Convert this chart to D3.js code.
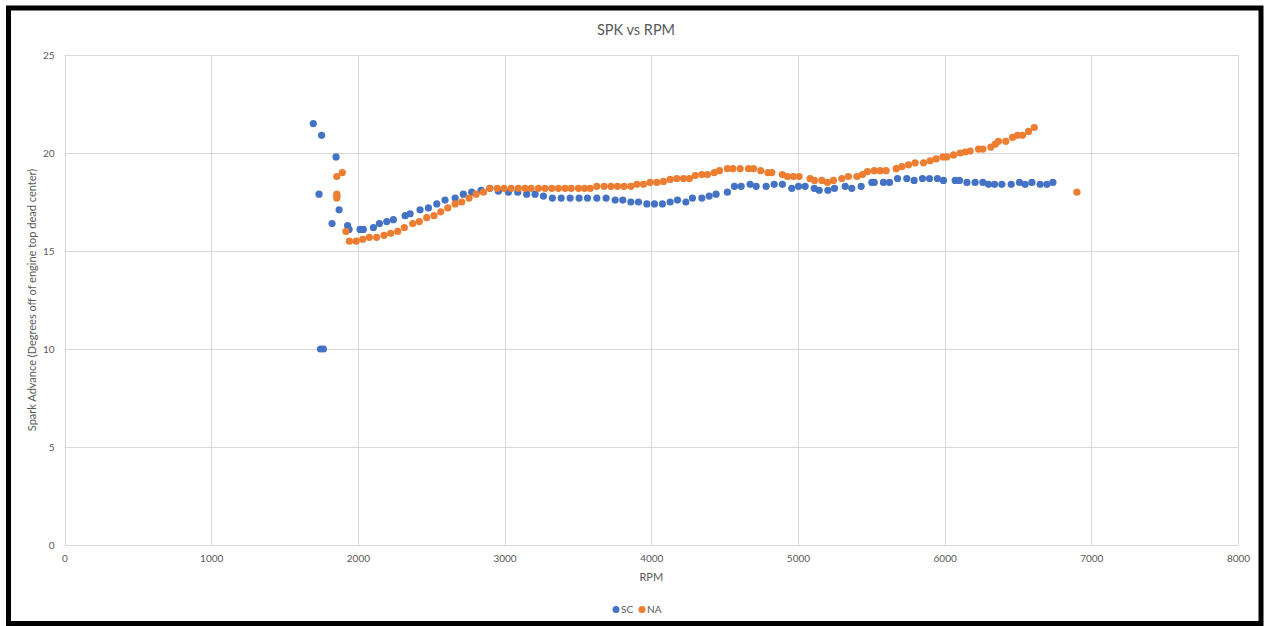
<!DOCTYPE html>
<html><head><meta charset="utf-8">
<script src="https://cdn.jsdelivr.net/npm/d3@7"></script>
<style>html,body{margin:0;padding:0;background:#fff;}svg{display:block;}</style>
</head><body>
<svg id="chart" width="1264" height="626"></svg>
<script>
const chartTitle = "SPK vs RPM";
const xTitle = "RPM";
const yTitle = "Spark Advance (Degrees off of engine top dead center)";
const xTicks = [0,1000,2000,3000,4000,5000,6000,7000,8000];
const yTicks = [0,5,10,15,20,25];
const seriesNames = ["SC","NA"];
const seriesColors = ["#4472C4","#ED7D31"];
const scData = [[1696,21.5],[1735,17.9],[1745,10.0],[1753,20.9],[1765,10.0],[1824,16.4],[1851,19.8],[1872,17.1],[1930,16.3],[1940,16.1],[2015,16.1],[2037,16.1],[2106,16.2],[2147,16.4],[2197,16.5],[2242,16.6],[2322,16.8],[2356,16.9],[2424,17.1],[2481,17.2],[2538,17.4],[2594,17.6],[2663,17.7],[2719,17.9],[2776,18.0],[2840,18.1],[2900,18.2],[2958,18.05],[3026,18.0],[3090,18.0],[3151,17.9],[3208,17.9],[3265,17.8],[3326,17.7],[3386,17.7],[3447,17.7],[3508,17.7],[3565,17.7],[3629,17.7],[3692,17.7],[3754,17.6],[3806,17.6],[3861,17.5],[3913,17.5],[3970,17.4],[4022,17.4],[4076,17.4],[4129,17.5],[4179,17.6],[4236,17.5],[4281,17.7],[4345,17.7],[4395,17.8],[4442,17.9],[4519,18.0],[4567,18.3],[4613,18.3],[4674,18.4],[4715,18.3],[4783,18.3],[4838,18.4],[4894,18.4],[4958,18.2],[5004,18.3],[5049,18.3],[5111,18.2],[5145,18.1],[5204,18.1],[5249,18.2],[5322,18.3],[5367,18.2],[5431,18.3],[5504,18.5],[5520,18.5],[5583,18.5],[5624,18.5],[5679,18.7],[5742,18.7],[5792,18.6],[5849,18.7],[5897,18.7],[5951,18.7],[5992,18.6],[6072,18.6],[6101,18.6],[6152,18.5],[6208,18.5],[6261,18.5],[6299,18.4],[6340,18.4],[6390,18.4],[6454,18.4],[6510,18.5],[6549,18.4],[6595,18.5],[6651,18.4],[6697,18.4],[6738,18.5]];
const naData = [[1856,18.8],[1856,17.9],[1858,17.8],[1856,17.7],[1894,19.0],[1919,16.0],[1942,15.5],[1988,15.5],[2033,15.6],[2078,15.7],[2128,15.7],[2178,15.8],[2224,15.9],[2272,16.0],[2317,16.2],[2374,16.4],[2419,16.5],[2469,16.7],[2519,16.8],[2565,17.0],[2613,17.2],[2663,17.4],[2708,17.5],[2758,17.7],[2806,17.9],[2856,18.0],[2900,18.2],[2951,18.2],[2997,18.2],[3045,18.2],[3094,18.2],[3140,18.2],[3181,18.2],[3231,18.2],[3276,18.2],[3322,18.2],[3367,18.2],[3413,18.2],[3454,18.2],[3504,18.2],[3545,18.2],[3584,18.2],[3629,18.3],[3679,18.3],[3725,18.3],[3770,18.3],[3815,18.3],[3861,18.3],[3902,18.4],[3947,18.4],[3992,18.5],[4038,18.5],[4083,18.55],[4129,18.65],[4174,18.7],[4220,18.7],[4260,18.7],[4300,18.85],[4345,18.9],[4383,18.9],[4429,19.0],[4465,19.1],[4519,19.2],[4556,19.2],[4606,19.2],[4663,19.2],[4697,19.2],[4747,19.1],[4795,19.0],[4822,19.0],[4894,18.9],[4929,18.8],[4969,18.8],[5008,18.8],[5083,18.7],[5113,18.6],[5163,18.6],[5201,18.5],[5242,18.6],[5299,18.7],[5344,18.8],[5402,18.8],[5440,18.9],[5474,19.05],[5520,19.1],[5561,19.1],[5601,19.1],[5670,19.2],[5708,19.3],[5754,19.4],[5799,19.5],[5856,19.5],[5901,19.6],[5942,19.7],[5988,19.8],[6015,19.8],[6061,19.9],[6106,20.0],[6140,20.05],[6174,20.1],[6231,20.2],[6261,20.2],[6315,20.3],[6345,20.45],[6367,20.6],[6417,20.6],[6463,20.8],[6497,20.9],[6531,20.9],[6572,21.1],[6611,21.3],[6902,18.0]];

const svg = d3.select("#chart");
const font = "Lato, 'Open Sans', sans-serif";
const textCol = "#595959";
const gridCol = "#d9d9d9";

// outer frame
svg.append("rect").attr("x",8.5).attr("y",8).attr("width",1252.5).attr("height",615.5)
  .attr("fill","none").attr("stroke","#000").attr("stroke-width",5);

const x = d3.scaleLinear().domain([0,8000]).range([64.5,1238]);
const y = d3.scaleLinear().domain([0,25]).range([545,55]);

// gridlines
svg.append("g").selectAll("line").data(yTicks).join("line")
  .attr("x1",x(0)).attr("x2",x(8000)).attr("y1",d=>Math.round(y(d))+0.5).attr("y2",d=>Math.round(y(d))+0.5)
  .attr("stroke",gridCol).attr("stroke-width",1);
svg.append("g").selectAll("line").data(xTicks).join("line")
  .attr("y1",y(0)).attr("y2",y(25)).attr("x1",d=>Math.round(x(d))+0.5).attr("x2",d=>Math.round(x(d))+0.5)
  .attr("stroke",gridCol).attr("stroke-width",1);

// axes (labels only)
const xAxis = d3.axisBottom(x).tickValues(xTicks).tickSize(0).tickPadding(10).tickFormat(d3.format("d"));
const gx = svg.append("g").attr("transform",`translate(0,${y(0)})`).call(xAxis);
gx.select(".domain").remove();
gx.selectAll("text").attr("fill",textCol).style("font-family",font).style("font-size","10px");
const yAxis = d3.axisLeft(y).tickValues(yTicks).tickSize(0).tickPadding(10).tickFormat(d3.format("d"));
const gy = svg.append("g").attr("transform",`translate(${x(0)},0)`).call(yAxis);
gy.select(".domain").remove();
gy.selectAll("text").attr("fill",textCol).style("font-family",font).style("font-size","10px");

// points
const series = [scData, naData];
series.forEach((data,i)=>{
  svg.append("g").selectAll("circle").data(data).join("circle")
    .attr("cx",d=>x(d[0])).attr("cy",d=>y(d[1])).attr("r",3.6)
    .attr("fill",seriesColors[i]);
});

// titles
svg.append("text").attr("x",636).attr("y",35).attr("text-anchor","middle")
  .attr("fill",textCol).style("font-family",font).style("font-size","14.5px").text(chartTitle);
svg.append("text").attr("x",(x(0)+x(8000))/2).attr("y",581).attr("text-anchor","middle")
  .attr("fill",textCol).style("font-family",font).style("font-size","11px").text(xTitle);
svg.append("text").attr("transform",`translate(36,${(y(0)+y(25))/2}) rotate(-90)`).attr("text-anchor","middle")
  .attr("fill",textCol).style("font-family",font).style("font-size","11px").text(yTitle);

// legend
const legend = svg.append("g");
const legX = [616, 642];
seriesNames.forEach((n,i)=>{
  legend.append("circle").attr("cx",legX[i]).attr("cy",609.5).attr("r",3.5).attr("fill",seriesColors[i]);
  legend.append("text").attr("x",legX[i]+5).attr("y",613).attr("fill",textCol)
    .style("font-family",font).style("font-size","10px").text(n);
});
</script>
</body></html>
